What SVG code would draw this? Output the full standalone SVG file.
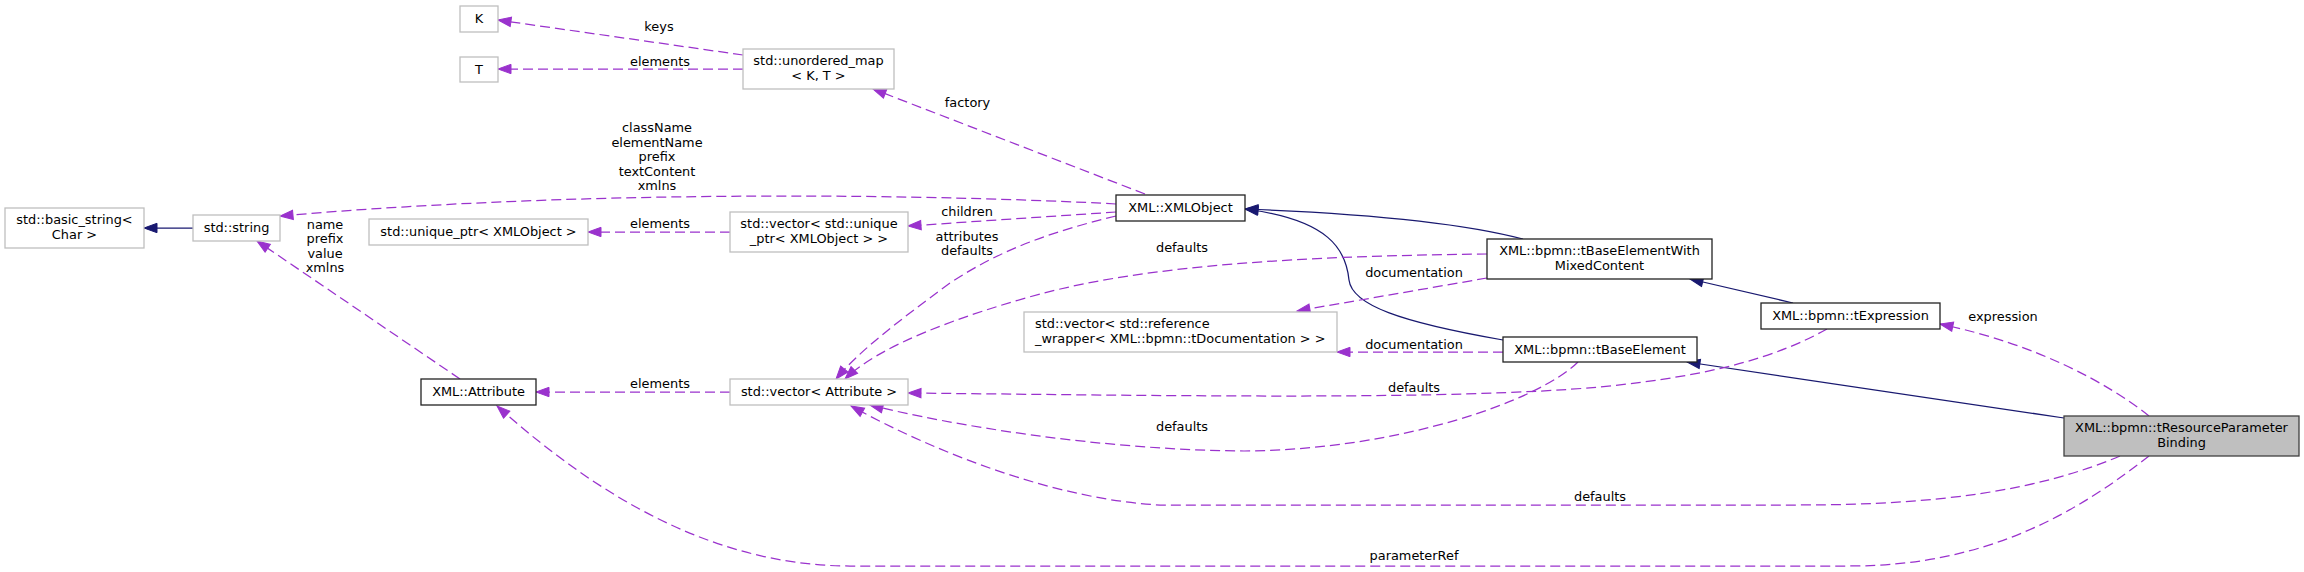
<svg xmlns="http://www.w3.org/2000/svg" width="2304" height="572" viewBox="0 0 2304 572">
<style>
text{font-family:"DejaVu Sans","Liberation Sans",sans-serif;font-size:12.9px;fill:#000}
.c{text-anchor:middle}
.ext{fill:#fff;stroke:#bfbfbf;stroke-width:1.3}
.doc{fill:#fff;stroke:#222;stroke-width:1.3}
.main{fill:#bfbfbf;stroke:#404040;stroke-width:1.3}
.inh{fill:none;stroke:#191970;stroke-width:1.25;marker-end:url(#ab)}
.use{fill:none;stroke:#9a32cd;stroke-width:1.25;stroke-dasharray:10,5;marker-end:url(#ap)}
</style>
<defs>
<marker id="ab" markerUnits="userSpaceOnUse" markerWidth="14" markerHeight="11" refX="13" refY="5" orient="auto" overflow="visible">
<path d="M0,0.3 L13,5 L0,9.7 z" fill="#191970" stroke="#191970"/>
</marker>
<marker id="ap" markerUnits="userSpaceOnUse" markerWidth="14" markerHeight="11" refX="13" refY="5" orient="auto" overflow="visible">
<path d="M0,0.3 L13,5 L0,9.7 z" fill="#9a32cd" stroke="#9a32cd"/>
</marker>
</defs>
<rect width="2304" height="572" fill="#fff"/>
<g id="edges">
<path class="inh" d="M193,228 L144,228"/>
<path class="inh" d="M1523,239 C1470,225 1380,214 1245,209"/>
<path class="inh" d="M1503,340 C1400,322 1352,305 1349,280 C1346,250 1330,220 1245,209"/>
<path class="inh" d="M1793,303 L1690,279"/>
<path class="inh" d="M2064,418 L1687,362"/>
<path class="use" d="M743,55 L498,20"/>
<text class="c" x="659" y="31">keys</text>
<path class="use" d="M743,69 L498,69"/>
<text class="c" x="660" y="65.5">elements</text>
<path class="use" d="M1145,194 L873,89"/>
<text class="c" x="967.5" y="107">factory</text>
<path class="use" d="M1116,204 C950,195 600,188 280,216"/>
<text class="c" x="657" y="132">className</text>
<text class="c" x="657" y="146.5">elementName</text>
<text class="c" x="657" y="161">prefix</text>
<text class="c" x="657" y="175.5">textContent</text>
<text class="c" x="657" y="190">xmlns</text>
<path class="use" d="M1116,212 L908,226"/>
<text class="c" x="967" y="216">children</text>
<path class="use" d="M1116,216 C1050,232 1000,250 950,283 C900,320 860,350 836,379"/>
<text class="c" x="967" y="240.5">attributes</text>
<text class="c" x="967" y="255">defaults</text>
<path class="use" d="M1487,254 C1300,256 1150,265 1040,294 C960,316 880,345 845,379"/>
<text class="c" x="1182" y="251.5">defaults</text>
<path class="use" d="M1487,278 L1297,311"/>
<text class="c" x="1414" y="277">documentation</text>
<path class="use" d="M1503,352 L1337,352"/>
<text class="c" x="1414" y="349">documentation</text>
<path class="use" d="M1578,362 C1540,400 1400,450 1244,451 C1100,450 950,425 870,405"/>
<text class="c" x="1182" y="431">defaults</text>
<path class="use" d="M2120,456 C2040,490 1940,505 1800,505 L1160,505 C1060,500 940,455 851,406"/>
<text class="c" x="1600" y="501">defaults</text>
<path class="use" d="M1827,329 C1780,355 1720,375 1600,387 C1450,400 1200,396 908,393"/>
<text class="c" x="1414" y="392">defaults</text>
<path class="use" d="M2149,416 C2110,385 2040,345 1940,324"/>
<text class="c" x="2003" y="321">expression</text>
<path class="use" d="M2149,456 C2080,510 1990,566 1850,566 L850,566 C700,566 580,480 497,406"/>
<text class="c" x="1414" y="560">parameterRef</text>
<path class="use" d="M460,379 L257,241"/>
<text class="c" x="325" y="228.5">name</text>
<text class="c" x="325" y="243">prefix</text>
<text class="c" x="325" y="257.5">value</text>
<text class="c" x="325" y="272">xmlns</text>
<path class="use" d="M730,392 L536,392"/>
<text class="c" x="660" y="388">elements</text>
<path class="use" d="M730,232 L588,232"/>
<text class="c" x="660" y="228">elements</text>
</g>
<g id="node-K"><rect class="ext" x="460" y="6" width="38" height="26"/><text class="c" x="479" y="23">K</text></g>
<g id="node-T"><rect class="ext" x="460" y="57" width="38" height="25"/><text class="c" x="479" y="74">T</text></g>
<g id="node-unordered_map"><rect class="ext" x="743" y="49" width="151" height="40"/><text class="c" x="818.5" y="65">std::unordered_map</text><text class="c" x="818.5" y="79.5">&lt; K, T &gt;</text></g>
<g id="node-basic_string"><rect class="ext" x="5" y="208" width="139" height="40"/><text class="c" x="74.5" y="224">std::basic_string&lt;</text><text class="c" x="74.5" y="238.5">Char &gt;</text></g>
<g id="node-string"><rect class="ext" x="193" y="215" width="87" height="26"/><text class="c" x="236.5" y="231.5">std::string</text></g>
<g id="node-unique_ptr"><rect class="ext" x="369" y="219" width="219" height="26"/><text class="c" x="478.5" y="235.5">std::unique_ptr&lt; XMLObject &gt;</text></g>
<g id="node-vector_unique_ptr"><rect class="ext" x="730" y="212" width="178" height="40"/><text class="c" x="819" y="228">std::vector&lt; std::unique</text><text class="c" x="819" y="242.5">_ptr&lt; XMLObject &gt; &gt;</text></g>
<g id="node-XMLObject"><rect class="doc" x="1116" y="195" width="129" height="26"/><text class="c" x="1180.5" y="211.5">XML::XMLObject</text></g>
<g id="node-Attribute"><rect class="doc" x="421" y="379" width="115" height="26"/><text class="c" x="478.5" y="395.5">XML::Attribute</text></g>
<g id="node-vector_Attribute"><rect class="ext" x="730" y="379" width="178" height="26"/><text class="c" x="819" y="395.5">std::vector&lt; Attribute &gt;</text></g>
<g id="node-tBaseElementWithMixedContent"><rect class="doc" x="1487" y="239" width="225" height="40"/><text class="c" x="1599.5" y="255">XML::bpmn::tBaseElementWith</text><text class="c" x="1599.5" y="269.5">MixedContent</text></g>
<g id="node-vector_reference_wrapper"><rect class="ext" x="1024" y="312" width="313" height="40"/><text x="1035" y="328">std::vector&lt; std::reference</text><text x="1035" y="342.5">_wrapper&lt; XML::bpmn::tDocumentation &gt; &gt;</text></g>
<g id="node-tBaseElement"><rect class="doc" x="1503" y="337" width="194" height="25"/><text class="c" x="1600" y="353.5">XML::bpmn::tBaseElement</text></g>
<g id="node-tExpression"><rect class="doc" x="1761" y="303" width="179" height="26"/><text class="c" x="1850.5" y="319.5">XML::bpmn::tExpression</text></g>
<g id="node-tResourceParameterBinding"><rect class="main" x="2064" y="416" width="235" height="40"/><text class="c" x="2181.5" y="432">XML::bpmn::tResourceParameter</text><text class="c" x="2181.5" y="446.5">Binding</text></g>
</svg>
